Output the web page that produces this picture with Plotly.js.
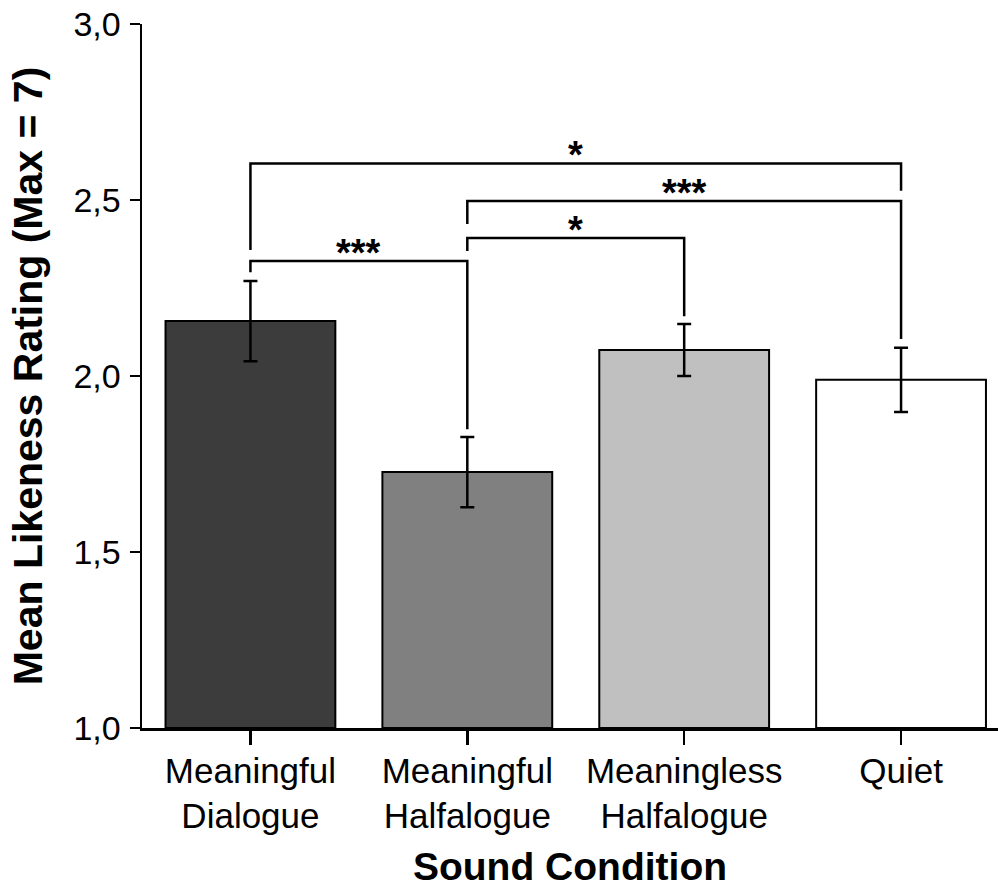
<!DOCTYPE html>
<html>
<head>
<meta charset="utf-8">
<script src="https://cdn.plot.ly/plotly-3.0.1.min.js"></script>
<style>html,body{margin:0;padding:0;background:#fff;}#chart{width:998px;height:890px;}</style>
</head>
<body>
<div id="chart"></div>
<script>
// Data
const categories = ["Meaningful<br>Dialogue", "Meaningful<br>Halfalogue", "Meaningless<br>Halfalogue", "Quiet"];
const meanRating = [2.156, 1.727, 2.074, 1.989];
const errorSE = [0.114, 0.100, 0.074, 0.091];
const barColors = ["#3c3c3c", "#808080", "#c0c0c0", "#ffffff"];
const yTickVals = [1.0, 1.5, 2.0, 2.5, 3.0];
const yTickText = ["1,0", "1,5", "2,0", "2,5", "3,0"];

// Significance brackets: [left index, right index]
const bracketFrom = [0, 1, 1, 0];
const bracketTo = [1, 2, 3, 3];
const bracketY = [2.327, 2.392, 2.497, 2.604];
const bracketLeftEnd = [2.295, 2.355, 2.432, 2.358];
const bracketRightEnd = [1.849, 2.170, 2.105, 2.526];
const bracketLabel = ["***", "*", "***", "*"];

const idx = categories.map((c, i) => i);
const baseVal = 1;

const trace = {
  type: "bar",
  x: idx,
  y: meanRating.map(v => v - baseVal),
  base: baseVal,
  marker: { color: barColors, line: { color: "#000", width: 2 } },
  error_y: { type: "data", array: errorSE, arrayminus: errorSE, visible: true, color: "#000", thickness: 2.5, width: 7 },
  width: 0.783,
  hoverinfo: "skip"
};

const shapes = bracketY.map((y, i) => ({
  type: "path",
  xref: "x", yref: "y",
  path: `M ${bracketFrom[i]},${bracketLeftEnd[i]} L ${bracketFrom[i]},${y} L ${bracketTo[i]},${y} L ${bracketTo[i]},${bracketRightEnd[i]}`,
  line: { color: "#000", width: 2.5 }
}));

const annotations = bracketY.map((y, i) => ({
  xref: "x", yref: "y",
  x: (bracketFrom[i] + bracketTo[i]) / 2,
  y: y,
  text: bracketLabel[i],
  showarrow: false,
  yanchor: "bottom",
  yshift: -15,
  font: { family: "Liberation Sans, Arial, sans-serif", size: 38, color: "#000", weight: "bold" }
}));

const layout = {
  width: 998, height: 890,
  margin: { l: 142, r: 0, t: 24, b: 162 },
  paper_bgcolor: "#fff", plot_bgcolor: "#fff",
  separators: ",.",
  showlegend: false,
  font: { family: "Liberation Sans, Arial, sans-serif", color: "#000" },
  xaxis: {
    range: [-0.5, 3.447],
    tickvals: idx,
    ticktext: categories,
    showgrid: false, zeroline: false,
    showline: true, linecolor: "#000", linewidth: 2.5,
    ticks: "outside", ticklen: 14, tickwidth: 2.5, tickcolor: "#000",
    ticklabelstandoff: -4,
    tickfont: { size: 35, color: "#000" },
    title: { text: "<b>Sound Condition</b>", font: { size: 39, color: "#000" }, standoff: 19 }
  },
  yaxis: {
    range: [1, 3],
    tickvals: yTickVals,
    ticktext: yTickText,
    showgrid: false, zeroline: false,
    showline: true, linecolor: "#000", linewidth: 2.5,
    ticks: "outside", ticklen: 10, tickwidth: 2.5, tickcolor: "#000",
    ticklabelstandoff: 2,
    tickfont: { size: 34, color: "#000" },
    title: { text: "<b>Mean Likeness Rating (Max = 7)</b>", font: { size: 41, color: "#000" }, standoff: 18 }
  },
  shapes: shapes,
  annotations: annotations
};

Plotly.newPlot("chart", [trace], layout, { staticPlot: true, displayModeBar: false });
</script>
</body>
</html>
